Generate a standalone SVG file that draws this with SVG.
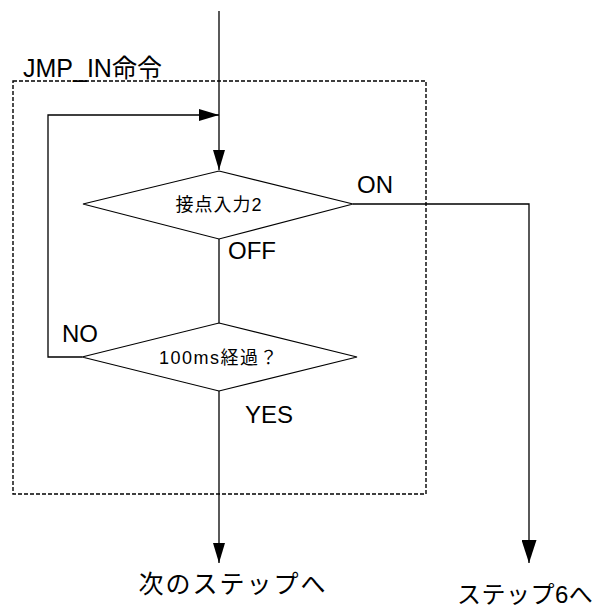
<svg xmlns="http://www.w3.org/2000/svg" width="601" height="608" viewBox="0 0 601 608">
<style>
.t{font-family:"Liberation Sans","Noto Sans CJK JP",sans-serif;fill:#000}
.ln{fill:none;stroke:#000;stroke-width:1.3}
.dm{fill:#fff;stroke:#000;stroke-width:1.2}
</style>
<defs>
<marker id="ah" viewBox="0 0 20 12" refX="20" refY="6" markerWidth="20" markerHeight="12" markerUnits="userSpaceOnUse" orient="auto"><path d="M0,0 L20,6 L0,12 Z" fill="#000"/></marker>
<marker id="ahb" viewBox="0 0 23 15" refX="23" refY="7.5" markerWidth="23" markerHeight="15" markerUnits="userSpaceOnUse" orient="auto"><path d="M0,0 L23,7.5 L0,15 Z" fill="#000"/></marker>
</defs>
<rect x="0" y="0" width="601" height="608" fill="#fff"/>
<g id="frame">
<rect x="13" y="81" width="413" height="413" fill="none" stroke="#000" stroke-width="1.4" stroke-dasharray="4,2"/>
<text class="t" x="23" y="77" font-size="25">JMP_IN命令</text>
</g>
<g id="connectors">
<path class="ln" d="M219,11 V170" marker-end="url(#ah)"/>
<path class="ln" d="M82,357 H48 V115 H219" marker-end="url(#ah)"/>
<path class="ln" d="M219,239 V323"/>
<path class="ln" d="M219,391 V563" marker-end="url(#ah)"/>
<path class="ln" d="M353,204 H529 V563" stroke-width="1.8" marker-end="url(#ahb)"/>
</g>
<g id="d1">
<polygon class="dm" points="219,171 353,204 219,239 83,204"/>
<text class="t" x="219" y="211" font-size="18" text-anchor="middle" letter-spacing="1">接点入力2</text>
</g>
<g id="d2">
<polygon class="dm" points="219,323 357,357 219,391 82,357"/>
<text class="t" x="219" y="364" font-size="18" text-anchor="middle" letter-spacing="1.5">100ms経過？</text>
</g>
<g id="labels">
<text class="t" x="357" y="193" font-size="24">ON</text>
<text class="t" x="228" y="259" font-size="24">OFF</text>
<text class="t" x="62" y="342" font-size="24">NO</text>
<text class="t" x="245" y="423" font-size="24">YES</text>
</g>
<g id="end1"><text class="t" x="233" y="593" font-size="25" text-anchor="middle" letter-spacing="2">次のステップへ</text></g>
<g id="end2"><text class="t" x="457" y="603" font-size="24" letter-spacing="0.5">ステップ6へ</text></g>
</svg>
